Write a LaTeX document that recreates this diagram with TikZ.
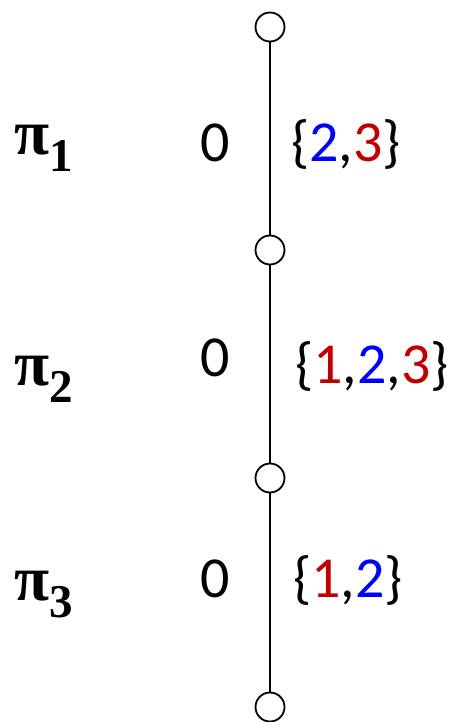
\documentclass[tikz,border=0pt]{standalone}
\usepackage{fontspec}
\setmainfont{Carlito}
\newfontfamily\pifont{Liberation Serif}
\definecolor{myblue}{RGB}{0,0,255}
\definecolor{myred}{RGB}{192,0,0}
\newcommand{\B}[1]{\textcolor{myblue}{#1}}
\newcommand{\R}[1]{\textcolor{myred}{#1}}
\newcommand{\pilabel}[1]{{\pifont\bfseries\fontsize{64}{64}\selectfont π\raisebox{-17pt}{\fontsize{47}{47}\selectfont #1}}}
\begin{document}
\begin{tikzpicture}[x=1pt,y=-1pt,
  vert/.style={circle,draw,fill=white,line width=1.8pt,minimum size=29pt,inner sep=0pt},
  edge/.style={line width=2.8pt},
  num/.style={anchor=base,inner sep=0pt,font=\fontsize{58}{58}\selectfont},
  setl/.style={anchor=base west,inner sep=0pt,font=\fontsize{58}{58}\selectfont},
  pil/.style={anchor=base west,inner sep=0pt}]
\useasboundingbox (0,0) rectangle (454,722);
\node[vert] (v1) at (270,27) {};
\node[vert] (v2) at (270,250) {};
\node[vert] (v3) at (270,478) {};
\node[vert] (v4) at (270,707) {};
\draw[edge] (v1) -- (v2);
\draw[edge] (v2) -- (v3);
\draw[edge] (v3) -- (v4);
\node[pil] (p1) at (14,155) {\pilabel{1}};
\node[pil] (p2) at (14,385) {\pilabel{2}};
\node[pil] (p3) at (14,600) {\pilabel{3}};
\node[num] (z1) at (215,161) {0};
\node[num] (z2) at (215,376) {0};
\node[num] (z3) at (215,597) {0};
\node[setl] (s1) at (291,161) {\{\B{2},\R{3}\}};
\node[setl] (s2) at (295,383) {\{\R{1},\B{2},\R{3}\}};
\node[setl] (s3) at (293,597) {\{\R{1},\B{2}\}};
\end{tikzpicture}
\end{document}
